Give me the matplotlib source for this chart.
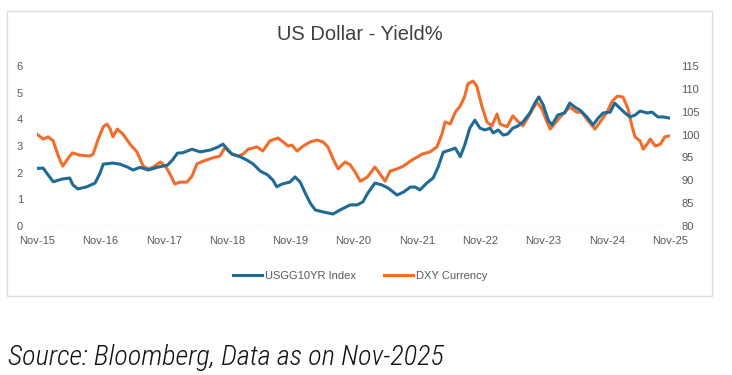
import matplotlib
matplotlib.use("Agg")
import matplotlib.pyplot as plt
import matplotlib.dates as mdates
from matplotlib.patches import Rectangle
import pandas as pd

# decimal-year dates, with values
ust_dates = [2015.83, 2015.93, 2016.01, 2016.09, 2016.23, 2016.35, 2016.40, 2016.48, 2016.62, 2016.75,
             2016.83, 2016.88, 2017.03, 2017.14, 2017.26, 2017.35, 2017.46, 2017.59, 2017.73, 2017.89,
             2017.97, 2018.05, 2018.14, 2018.28, 2018.41, 2018.57, 2018.68, 2018.77, 2018.85, 2018.91,
             2019.04, 2019.15, 2019.25, 2019.36, 2019.48, 2019.56, 2019.62, 2019.70, 2019.83, 2019.91,
             2019.99, 2020.07, 2020.15, 2020.23, 2020.35, 2020.51, 2020.62, 2020.78, 2020.89, 2020.98,
             2021.06, 2021.17, 2021.28, 2021.38, 2021.52, 2021.62, 2021.73, 2021.81, 2021.88, 2021.99,
             2022.09, 2022.17, 2022.25, 2022.36, 2022.44, 2022.52, 2022.59, 2022.67, 2022.75, 2022.83,
             2022.91, 2022.99, 2023.04, 2023.12, 2023.20, 2023.27, 2023.35, 2023.43, 2023.51, 2023.62,
             2023.70, 2023.76, 2023.83, 2023.91, 2023.97, 2024.06, 2024.17, 2024.25, 2024.33, 2024.41,
             2024.52, 2024.62, 2024.70, 2024.78, 2024.89, 2024.96, 2025.04, 2025.12, 2025.20, 2025.28,
             2025.36, 2025.47, 2025.55, 2025.64, 2025.72, 2025.82]
ust_yield = [2.16, 2.17, 1.91, 1.66, 1.76, 1.80, 1.54, 1.39, 1.47, 1.61,
             1.99, 2.32, 2.36, 2.32, 2.21, 2.10, 2.20, 2.10, 2.20, 2.28,
             2.47, 2.73, 2.75, 2.88, 2.78, 2.85, 2.95, 3.07, 2.85, 2.70,
             2.60, 2.47, 2.32, 2.06, 1.91, 1.72, 1.47, 1.57, 1.65, 1.84,
             1.65, 1.24, 0.86, 0.60, 0.53, 0.45, 0.60, 0.79, 0.79, 0.90,
             1.24, 1.61, 1.54, 1.42, 1.16, 1.27, 1.46, 1.46, 1.35, 1.61,
             1.80, 2.21, 2.77, 2.85, 2.92, 2.60, 3.04, 3.67, 3.97, 3.67,
             3.60, 3.67, 3.49, 3.60, 3.41, 3.45, 3.67, 3.75, 3.90, 4.24,
             4.61, 4.84, 4.54, 3.97, 3.79, 4.16, 4.24, 4.61, 4.46, 4.35,
             4.09, 3.79, 4.05, 4.24, 4.27, 4.61, 4.42, 4.24, 4.09, 4.16,
             4.31, 4.24, 4.27, 4.09, 4.09, 4.05]

dxy_dates = [2015.83, 2015.93, 2016.01, 2016.09, 2016.17, 2016.24, 2016.32, 2016.39, 2016.51, 2016.67,
             2016.72, 2016.80, 2016.88, 2016.94, 2016.99, 2017.03, 2017.10, 2017.19, 2017.30, 2017.41,
             2017.51, 2017.59, 2017.67, 2017.78, 2017.86, 2017.93, 2018.01, 2018.09, 2018.20, 2018.28,
             2018.36, 2018.46, 2018.61, 2018.72, 2018.80, 2018.91, 2019.01, 2019.09, 2019.17, 2019.31,
             2019.40, 2019.51, 2019.64, 2019.72, 2019.80, 2019.86, 2019.94, 2020.04, 2020.15, 2020.26,
             2020.35, 2020.43, 2020.51, 2020.59, 2020.70, 2020.78, 2020.86, 2020.94, 2021.05, 2021.17,
             2021.25, 2021.33, 2021.41, 2021.52, 2021.62, 2021.73, 2021.84, 2021.92, 2022.04, 2022.15,
             2022.23, 2022.28, 2022.36, 2022.44, 2022.52, 2022.59, 2022.64, 2022.72, 2022.78, 2022.86,
             2022.94, 2023.02, 2023.10, 2023.15, 2023.26, 2023.35, 2023.43, 2023.51, 2023.62, 2023.73,
             2023.81, 2023.89, 2023.94, 2024.05, 2024.14, 2024.25, 2024.36, 2024.44, 2024.54, 2024.65,
             2024.73, 2024.84, 2024.92, 2025.00, 2025.09, 2025.17, 2025.23, 2025.28, 2025.36, 2025.41,
             2025.47, 2025.52, 2025.60, 2025.68, 2025.75, 2025.82]
dxy_index = [100.1, 99.0, 99.5, 98.6, 95.3, 93.1, 94.7, 96.0, 95.5, 95.3,
             95.75, 99.0, 101.7, 102.3, 101.2, 99.5, 101.2, 100.1, 97.9, 96.2,
             93.1, 92.5, 92.9, 94.0, 93.1, 91.4, 89.2, 89.6, 89.6, 90.9,
             93.6, 94.2, 94.9, 95.3, 97.1, 95.75, 95.3, 95.75, 96.8, 97.3,
             96.4, 98.6, 99.25, 98.4, 97.5, 97.7, 96.4, 97.5, 98.4, 98.8,
             98.4, 97.3, 94.7, 92.5, 94.0, 93.4, 91.8, 89.8, 90.7, 92.9,
             91.4, 89.8, 92.0, 92.5, 93.1, 94.2, 95.1, 95.75, 96.2, 97.3,
             100.1, 102.75, 102.3, 104.9, 106.25, 108.4, 111.1, 111.7, 110.6, 106.25,
             102.75, 101.9, 104.5, 102.3, 101.7, 104.1, 102.9, 101.9, 104.5, 107.1,
             105.6, 102.75, 101.2, 103.0, 104.5, 106.0, 104.9, 104.9, 103.0, 101.2,
             102.75, 104.9, 107.3, 108.4, 108.2, 105.6, 101.9, 99.5, 98.6, 96.8,
             97.9, 99.0, 97.5, 97.9, 99.5, 99.7]

tick_years = list(range(2015, 2026))
left_ticks = [0, 1, 2, 3, 4, 5, 6]
right_ticks = [80, 85, 90, 95, 100, 105, 110, 115]

BLUE = "#1f6b95"
ORANGE = "#f26d2c"
GREY = "#595959"


def to_dates(years):
    out = []
    for y in years:
        base = pd.Timestamp(year=int(y), month=1, day=1)
        out.append(base + pd.Timedelta(days=(y - int(y)) * 365.25))
    return out


fig = plt.figure(figsize=(7.32, 3.75), dpi=100)
plt.rcParams['font.family'] = ['Liberation Sans', 'DejaVu Sans']

# light frame around the chart (Excel chart area)
fig.patches.append(Rectangle((7 / 732, 79 / 375), 705 / 732, 285 / 375,
                             transform=fig.transFigure, fill=False,
                             edgecolor="#dcdcdc", linewidth=1.0))

ax = fig.add_axes([37 / 732, 149 / 375, 633 / 732, 160 / 375])
ax2 = ax.twinx()

l1, = ax.plot(to_dates(ust_dates), ust_yield, color=BLUE, lw=2.2,
              label="USGG10YR Index", zorder=3)
l2, = ax2.plot(to_dates(dxy_dates), dxy_index, color=ORANGE, lw=2.2,
               label="DXY Currency", zorder=2)
ax.set_zorder(ax2.get_zorder() + 1)
ax.patch.set_visible(False)

ax.set_xlim(pd.Timestamp("2015-11-01"), pd.Timestamp("2025-11-01"))
ax.set_ylim(0, 6)
ax2.set_ylim(80, 115)
ax.set_yticks(left_ticks)
ax2.set_yticks(right_ticks)
xt = [pd.Timestamp(year=y, month=11, day=1) for y in tick_years]
ax.set_xticks(xt)
ax.xaxis.set_major_formatter(mdates.DateFormatter("%b-%y"))

for a in (ax, ax2):
    for s in a.spines.values():
        s.set_visible(False)
    a.tick_params(length=0, colors=GREY, labelsize=8)
ax.tick_params(axis="y", pad=10)
ax2.tick_params(axis="y", pad=8)
ax.tick_params(axis="x", pad=7)
ax.axhline(0, color="#d0d0d0", lw=1, ls=(0, (1, 1)), zorder=1)

fig.text(0.492, 1 - 34 / 375, "US Dollar - Yield%", ha="center", va="center",
         fontsize=14.5, color="#404040")

fig.legend(handles=[l1, l2], loc="center", bbox_to_anchor=(0.492, 1 - 276 / 375),
           ncol=2, frameon=False, fontsize=8, labelcolor=GREY,
           handlelength=2.6, handletextpad=0.3, columnspacing=2.5)

fig.text(8 / 732, 1 - 365 / 375, "Source: Bloomberg, Data as on Nov-2025",
         ha="left", va="baseline", fontsize=20.3, style="italic", weight="light",
         color="#111111", family=["Roboto Condensed", "Roboto", "DejaVu Sans"])

fig.savefig("out.png", dpi=100)
